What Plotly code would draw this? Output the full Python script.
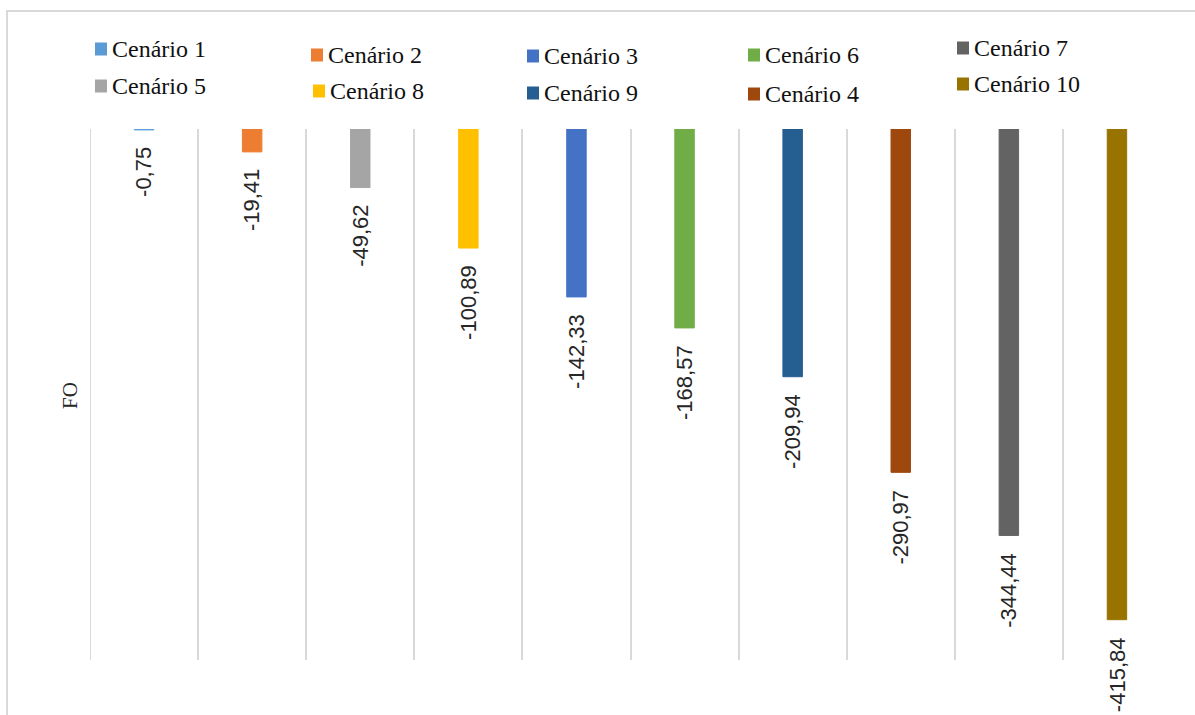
import plotly.graph_objects as go

# Objective-function value (FO) per scenario, in the order the bars are drawn
scenarios = ["Cenário 1", "Cenário 2", "Cenário 5", "Cenário 8", "Cenário 3",
             "Cenário 6", "Cenário 9", "Cenário 4", "Cenário 7", "Cenário 10"]
fo_values = [-0.75, -19.41, -49.62, -100.89, -142.33,
             -168.57, -209.94, -290.97, -344.44, -415.84]
bar_colors = ["#5B9BD5", "#ED7D31", "#A5A5A5", "#FFC000", "#4472C4",
              "#70AD47", "#255E91", "#9E480E", "#636363", "#997300"]

# Legend entries in reading order (two rows of five)
legend_order = ["Cenário 1", "Cenário 2", "Cenário 3", "Cenário 6", "Cenário 7",
                "Cenário 5", "Cenário 8", "Cenário 9", "Cenário 4", "Cenário 10"]

SERIF = "Times New Roman, Liberation Serif, serif"
SANS = "Liberation Sans, Arial, sans-serif"

W, H = 1195, 715
ML, MR, MT, MB = 90, 24, 129, 55
PW, PH = W - ML - MR, H - MT - MB


def px_x(px):
    return (px - ML) / PW


def px_y(py):
    return (H - MB - py) / PH


fig = go.Figure()
for i, (name, val, col) in enumerate(zip(scenarios, fo_values, bar_colors)):
    fig.add_trace(go.Bar(x=[i], y=[val], name=name, marker_color=col,
                         marker_line=dict(color=col, width=1),
                         width=0.18, showlegend=False))
    fig.add_annotation(x=i, y=val, xref="x", yref="y",
                       text=f"{val:.2f}".replace(".", ","),
                       textangle=-90, showarrow=False,
                       xanchor="center", yanchor="top", yshift=-15,
                       font=dict(family=SANS, size=22, color="#262626"))

# Hand-placed legend: square swatch + serif label
legend_pos = [(95, 49), (311, 55), (527, 56), (748, 55), (957, 48),
              (95, 86), (313, 91), (527, 93), (748, 94), (957, 84)]
color_of = dict(zip(scenarios, bar_colors))
for name, (lx, ly) in zip(legend_order, legend_pos):
    fig.add_shape(type="rect", xref="paper", yref="paper",
                  x0=px_x(lx), x1=px_x(lx + 12), y0=px_y(ly + 6.5), y1=px_y(ly - 6.5),
                  fillcolor=color_of[name], line_width=0)
    fig.add_annotation(x=px_x(lx + 15), y=px_y(ly), xref="paper", yref="paper",
                       text=name, showarrow=False, xanchor="left", yanchor="middle",
                       font=dict(family=SERIF, size=24, color="#111111"))

# Y-axis title
fig.add_annotation(x=px_x(70), y=px_y(396), xref="paper", yref="paper",
                   text="FO", textangle=-90, showarrow=False,
                   xanchor="center", yanchor="middle",
                   font=dict(family=SERIF, size=21, color="#262626"))

# Left boundary gridline
fig.add_shape(type="line", xref="x", yref="paper", x0=-0.5, x1=-0.5, y0=0, y1=1,
              line=dict(color="#d9d9d9", width=2))

# Chart frame
fig.add_shape(type="rect", xref="paper", yref="paper",
              x0=px_x(7), x1=px_x(1210), y0=px_y(730), y1=px_y(11),
              line=dict(color="#d9d9d9", width=2), fillcolor="rgba(0,0,0,0)")

fig.update_layout(
    width=W, height=H,
    margin=dict(l=ML, r=MR, t=MT, b=MB),
    paper_bgcolor="white", plot_bgcolor="white",
    barmode="overlay",
    xaxis=dict(range=[-0.5, 9.5], tickmode="array",
               tickvals=[k - 0.5 for k in range(11)],
               showticklabels=False, ticks="", showgrid=True,
               gridcolor="#d9d9d9", gridwidth=2, zeroline=False, showline=False),
    yaxis=dict(range=[-450, 0], showgrid=False, showticklabels=False,
               ticks="", zeroline=False, showline=False),
)

fig.write_html("out.html")
